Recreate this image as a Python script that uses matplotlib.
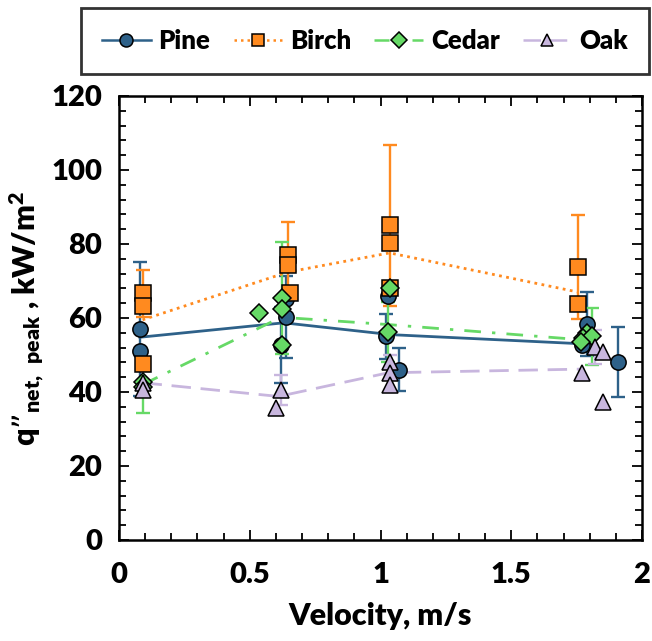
import numpy as np
import matplotlib
matplotlib.use('Agg')
import matplotlib.pyplot as plt
from matplotlib.ticker import MultipleLocator

plt.rcParams['font.family'] = ['Lato', 'DejaVu Sans']
plt.rcParams['font.weight'] = 'heavy'
plt.rcParams['axes.labelweight'] = 'heavy'
plt.rcParams['mathtext.default'] = 'regular'

nan = np.nan

# Pine
pine_x = [0.08, 0.08, 0.64, 0.62, 0.64, 1.03, 1.02, 1.07, 1.79, 1.77, 1.91]
pine_y = [57.0, 51.0, 60.3, 52.7, 65.0, 66.0, 55.0, 46.0, 58.4, 52.7, 48.1]
pine_err = [18.0, nan, 11.0, 10.3, nan, nan, 6.0, 5.8, 8.6, nan, 9.4]
pine_line_x = [0.08, 0.63, 1.04, 1.78]
pine_line_y = [54.8, 58.7, 55.5, 53.0]

# Birch
birch_x = [0.09, 0.09, 0.09, 0.645, 0.645, 0.655, 1.035, 1.035, 1.035, 1.756, 1.756]
birch_y = [66.7, 63.3, 47.6, 77.0, 74.3, 66.7, 85.0, 80.3, 68.0, 73.8, 63.8]
birch_err = [6.4, nan, nan, 9.0, nan, nan, 21.8, nan, nan, 14.0, nan]
birch_line_x = [0.09, 0.645, 1.035, 1.756]
birch_line_y = [59.5, 72.4, 77.6, 67.0]

# Cedar
cedar_x = [0.09, 0.09, 0.535, 0.625, 0.625, 0.625, 1.035, 1.03, 1.79, 1.775, 1.81, 1.765]
cedar_y = [42.7, 41.4, 61.3, 65.4, 62.4, 52.7, 68.0, 56.2, 56.0, 54.6, 55.0, 53.6]
cedar_err = [nan, 7.0, nan, 15.1, nan, nan, nan, 8.0, nan, nan, 7.6, nan]
cedar_line_x = [0.09, 0.62, 1.035, 1.79]
cedar_line_y = [42.0, 60.2, 58.2, 54.0]

# Oak
oak_x = [0.09, 0.09, 0.62, 0.60, 1.035, 1.035, 1.035, 1.77, 1.82, 1.85, 1.85]
oak_y = [42.4, 40.5, 40.5, 35.7, 48.0, 45.0, 42.0, 45.1, 52.2, 50.8, 37.3]
oak_err = [3.5, nan, 4.1, nan, nan, 5.0, nan, nan, 4.5, nan, nan]
oak_line_x = [0.09, 0.61, 1.03, 1.78]
oak_line_y = [42.5, 38.8, 45.2, 46.2]

series = [
    ('Pine', pine_x, pine_y, pine_err, pine_line_x, pine_line_y,
     '#2E6189', 'o', 11, '-'),
    ('Birch', birch_x, birch_y, birch_err, birch_line_x, birch_line_y,
     '#FF8A1F', 's', 11, (0, (1, 1.6))),
    ('Cedar', cedar_x, cedar_y, cedar_err, cedar_line_x, cedar_line_y,
     '#66D966', 'D', 9, (0, (6, 4, 1.2, 4))),
    ('Oak', oak_x, oak_y, oak_err, oak_line_x, oak_line_y,
     '#C8B6DE', '^', 11, (0, (7, 3.5))),
]

fig = plt.figure(figsize=(6.52, 6.41), dpi=100)
ax = fig.add_axes([119 / 652, 1 - 540 / 641, (642 - 119) / 652, (540 - 96) / 641])

handles = []
for name, x, y, err, lx, ly, col, mk, ms, ls in series:
    ax.errorbar(x, y, yerr=err, fmt='none', ecolor=col, elinewidth=1.7,
                capsize=5, capthick=1.7, zorder=2)
    ax.plot(lx, ly, color=col, lw=2.0, linestyle=ls, zorder=3)
    ax.plot(x, y, linestyle='none', marker=mk, ms=ms, mfc=col, mec='black',
            mew=1.1, zorder=4)
    h, = ax.plot([], [], color=col, lw=1.8, linestyle=ls, marker=mk,
                 ms=ms * 0.85, mfc=col, mec='black', mew=1.1)
    handles.append(h)

ax.set_xlim(0, 2)
ax.set_ylim(0, 120)
ax.xaxis.set_major_locator(MultipleLocator(0.5))
ax.xaxis.set_minor_locator(MultipleLocator(0.1))
ax.yaxis.set_major_locator(MultipleLocator(20))
ax.yaxis.set_minor_locator(MultipleLocator(4))
ax.set_xticks([0, 0.5, 1, 1.5, 2], ['0', '0.5', '1', '1.5', '2'])
ax.tick_params(which='both', direction='in', top=True, right=True,
               labelsize=21, width=1.3)
ax.tick_params(axis='x', pad=16)
ax.tick_params(axis='y', pad=12)
ax.tick_params(which='major', length=7)
ax.tick_params(which='minor', length=5)
for s in ax.spines.values():
    s.set_linewidth(1.8)

ax.set_xlabel('Velocity, m/s', fontsize=22, fontweight='heavy', labelpad=10)
ax.set_ylabel('q\u201d$_{net,\\ peak}$ , kW/m$^{2}$', fontsize=22,
              fontweight='heavy', labelpad=4)

leg = fig.legend(handles, ['Pine', 'Birch', 'Cedar', 'Oak'], ncol=4,
                 loc='center', bbox_to_anchor=(365 / 652, 1 - 41 / 641),
                 fontsize=18.5, frameon=True, fancybox=False, edgecolor='black',
                 handlelength=1.9, columnspacing=0.9, handletextpad=0.3,
                 borderpad=0.8, borderaxespad=0)
leg.get_frame().set_linewidth(2.0)

fig.savefig('out.png', dpi=100)
